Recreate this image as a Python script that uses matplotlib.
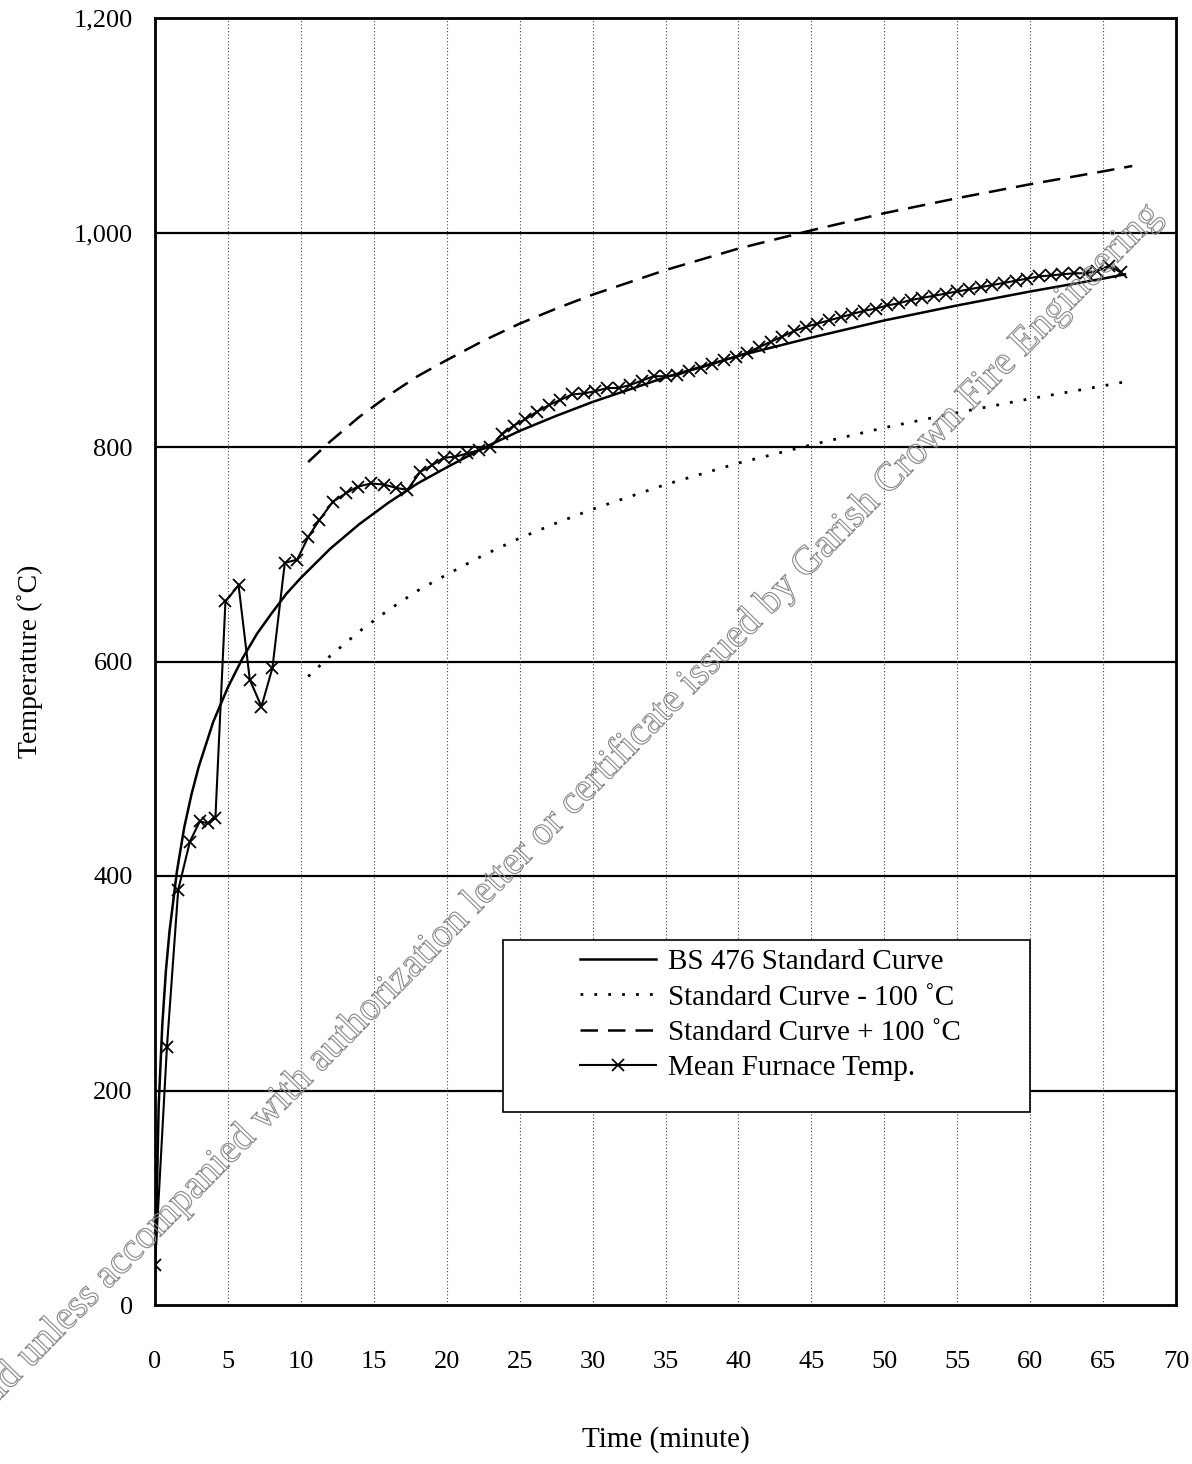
import matplotlib
matplotlib.use('Agg')
import matplotlib.pyplot as plt
import matplotlib.patheffects as pe
from matplotlib.patches import Rectangle
from matplotlib.ticker import FuncFormatter

plt.rcParams['font.family'] = ['Liberation Serif', 'DejaVu Serif']

# ---------------- data ----------------
x_ticks = [0, 5, 10, 15, 20, 25, 30, 35, 40, 45, 50, 55, 60, 65, 70]
y_ticks = [0, 200, 400, 600, 800, 1000, 1200]

std_time = [0, 0.25, 0.5, 0.75, 1, 1.5, 2, 2.5, 3, 4, 5, 6, 7, 8, 9, 10, 12, 14, 16, 18,
            20, 22.5, 25, 27.5, 30, 35, 40, 45, 50, 55, 60, 65, 66.5]
std_temp = [20, 185, 261, 312, 349, 404, 445, 476, 502, 544, 576, 603, 626, 645, 663, 678,
            705, 728, 748, 766, 781, 799, 815, 829, 842, 865, 885, 902, 918, 932, 945, 957, 961]

tol_time = [10.5, 12, 14, 16, 18, 20, 22.5, 25, 27.5, 30, 35, 40, 45, 50, 55, 60, 65, 67]
std_plus100 = [786, 805, 828, 848, 866, 881, 899, 915, 929, 942, 965, 985, 1002, 1018,
               1032, 1045, 1057, 1062]
std_minus100 = [586, 605, 628, 648, 666, 681, 699, 715, 729, 742, 765, 785, 802, 818,
                832, 845, 857, 862]

furnace_time = [0.0, 0.82, 1.59, 2.39, 3.07, 3.64, 4.14, 4.83, 5.73, 6.5,
                7.3, 8.05, 8.9, 9.75, 10.5, 11.27, 12.2, 13.1, 13.9, 14.8,
                15.7, 16.5, 17.3, 18.2, 19.0, 19.8,
                20.6, 21.4, 22.2, 23.0, 23.8, 24.6, 25.4, 26.2, 27.0, 27.8,
                28.6, 29.4, 30.2, 31.0, 31.8, 32.6, 33.4, 34.2, 35.0, 35.8,
                36.6, 37.4, 38.2, 39.0, 39.8, 40.6, 41.4, 42.2, 43.0, 43.8,
                44.6, 45.4, 46.2, 47.0, 47.8, 48.6, 49.4, 50.2, 51.0, 51.8,
                52.6, 53.4, 54.2, 55.0, 55.8, 56.6, 57.4, 58.2, 59.0, 59.8,
                60.6, 61.4, 62.2, 63.0, 63.8, 64.6, 65.4, 66.2]
furnace_temp = [37, 241, 387, 432, 451, 449, 454, 656, 671, 583,
                558, 594, 692, 695, 716, 732, 749, 757, 763, 766,
                765, 762, 760, 777, 783, 790,
                791, 794, 797, 800, 812, 820, 826, 833, 839, 844,
                849, 850, 852, 855, 855, 858, 862, 866, 866, 867,
                871, 874, 877, 881, 884, 888, 893, 898, 903, 908,
                912, 915, 918, 921, 924, 927, 929, 932, 934, 937,
                939, 941, 943, 945, 947, 949, 951, 953, 955, 957,
                959, 960, 961, 962, 962, 964, 969, 963]

labels = ['BS 476 Standard Curve', 'Standard Curve - 100 \u02daC',
          'Standard Curve + 100 \u02daC', 'Mean Furnace Temp.']

# ---------------- figure ----------------
W, H = 1192, 1464
fig = plt.figure(figsize=(W / 100, H / 100), dpi=100)
ax = fig.add_axes([155 / W, 159 / H, 1021 / W, 1287 / H])
ax.set_xlim(0, 70)
ax.set_ylim(0, 1200)
ax.set_xticks(x_ticks)
ax.set_yticks(y_ticks)
ax.yaxis.set_major_formatter(FuncFormatter(lambda v, p: f"{int(v):,}"))
ax.tick_params(axis='both', length=0, labelsize=19)
ax.tick_params(axis='x', pad=33)
ax.tick_params(axis='y', pad=16)
for s in ax.spines.values():
    s.set_linewidth(2)
    s.set_color('black')

for yv in y_ticks[1:-1]:
    ax.axhline(yv, color='black', lw=1.6, zorder=1)
for xv in x_ticks[1:-1]:
    ax.axvline(xv, color='#444444', lw=0.8, ls=(0, (1, 2)), zorder=1)

ax.set_xlabel('Time (minute)', fontsize=21, labelpad=38)
ax.set_ylabel('Temperature (\u02daC)', fontsize=20, labelpad=22)

h1, = ax.plot(std_time, std_temp, color='black', lw=1.8, zorder=3)
h2, = ax.plot(tol_time, std_minus100, color='black', lw=2, ls=(0, (1, 4)), zorder=3)
h3, = ax.plot(tol_time, std_plus100, color='black', lw=1.8, ls=(0, (7, 4)), zorder=3)
h4, = ax.plot(furnace_time, furnace_temp, color='black', lw=1.5, marker='x', ms=9,
              mew=1.3, zorder=4)

# legend box
box_x0 = (503 - 155) / 1021
box_x1 = (1030 - 155) / 1021
box_y0 = (1305 - 1112) / 1287
box_y1 = (1305 - 940) / 1287
ax.add_patch(Rectangle((box_x0, box_y0), box_x1 - box_x0, box_y1 - box_y0,
                       transform=ax.transAxes, facecolor='white', edgecolor='black',
                       lw=1.2, zorder=5))
leg = ax.legend([h1, h2, h3, h4], labels, loc='upper left',
                bbox_to_anchor=((580 - 155) / 1021, (1305 - 949) / 1287),
                frameon=False, fontsize=21, handlelength=2.6, handletextpad=0.4,
                labelspacing=0.3, borderpad=0, borderaxespad=0, numpoints=1)
leg.set_zorder(6)

# watermark
ax_pt = (108 / W, (H - 1290) / H)
wm_kw = dict(rotation=45.5, rotation_mode='anchor', va='baseline', fontsize=29,
             color=(1, 1, 1, 0),
             path_effects=[pe.withStroke(linewidth=0.8, foreground='#8a8a8a')],
             zorder=10)
fig.text(ax_pt[0], ax_pt[1],
         'accompanied with authorization letter or certificate issued by '
         'Garish Crown Fire Engineering',
         ha='left', **wm_kw)
fig.text(ax_pt[0], ax_pt[1], 'Invalid unless ', ha='right', **wm_kw)

fig.savefig('out.png', dpi=100)
